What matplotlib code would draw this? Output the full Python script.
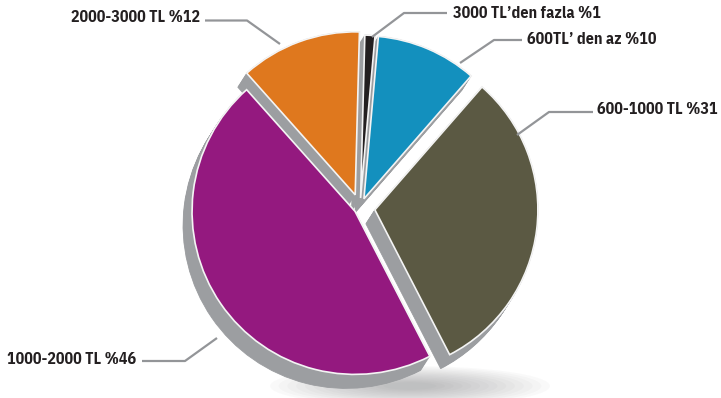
import matplotlib.pyplot as plt
from matplotlib.patches import Wedge, Ellipse
import numpy as np

# Income groups, shares (%) and slice colours, counter-clockwise from the top
labels = ['2000-3000 TL %12', '1000-2000 TL %46', '600-1000 TL %31',
          '600TL’ den az %10', '3000 TL’den fazla %1']
values = [12, 46, 31, 10, 1]
colors = ['#df781e', '#94197f', '#5b5943', '#1390be', '#231f20']

W, H = 721, 398
fig = plt.figure(figsize=(W / 100, H / 100), dpi=100)
ax = fig.add_axes([0, 0, 1, 1])
ax.set_xlim(0, W)
ax.set_ylim(0, H)
ax.axis('off')

center = np.array([360.0, H - 208.0])
radius = 163
start = 88.5
explode = [14, 6, 15, 10, 10]          # how far each slice is pulled out
depth = np.array([-9.0, -14.0])        # extrusion of the pie body
side_color = '#9c9ea1'

# soft drop shadow under the pie
for k in range(14):
    s = 1 - k / 16
    ax.add_patch(Ellipse((410, H - 386), 280 * s, 40 * s,
                         color='#6d6e71', alpha=0.035, lw=0, zorder=0))

angles = np.array(values) / sum(values) * 360
edges = start + np.concatenate([[0], np.cumsum(angles)])

slice_centers = []
for i in range(len(values)):
    t1, t2 = edges[i], edges[i + 1]
    mid = np.deg2rad((t1 + t2) / 2)
    slice_centers.append(center + explode[i] * np.array([np.cos(mid), np.sin(mid)]))

# grey body: sweep each slice along the depth vector
for i in range(len(values)):
    t1, t2 = edges[i], edges[i + 1]
    for f in np.linspace(1, 0, 16):
        ax.add_patch(Wedge(slice_centers[i] + f * depth, radius, t1, t2,
                           facecolor=side_color, edgecolor=side_color,
                           lw=0.6, zorder=1))

# coloured top faces
for i in range(len(values)):
    t1, t2 = edges[i], edges[i + 1]
    ax.add_patch(Wedge(slice_centers[i], radius, t1, t2,
                       facecolor=colors[i], edgecolor='#f4f4f4',
                       lw=1.2, zorder=2))

# labels with leader lines (pixel coordinates, y measured from the top)
leaders = [
    ([205, 247, 280], [20.5, 20.5, 44], (200, 18), 'right'),
    ([217, 185, 142], [338, 361, 361], (136, 360), 'right'),
    ([593, 549, 517], [112, 112, 135], (597, 110), 'left'),
    ([522, 494, 460], [40, 40, 63], (527, 40), 'left'),
    ([447, 404, 372], [13, 13, 37], (453, 13), 'left'),
]

for text, (xs, ys, (tx, ty), ha) in zip(labels, leaders):
    ax.plot(xs, [H - y for y in ys], color='#939598', lw=1.6,
            solid_capstyle='butt', zorder=3)
    ax.text(tx, H - ty, text, ha=ha, va='center', fontsize=11.5,
            fontweight='bold', color='#231f20',
            family=['IBM Plex Sans Condensed', 'DejaVu Sans'])

fig.savefig('out.png', dpi=100)
